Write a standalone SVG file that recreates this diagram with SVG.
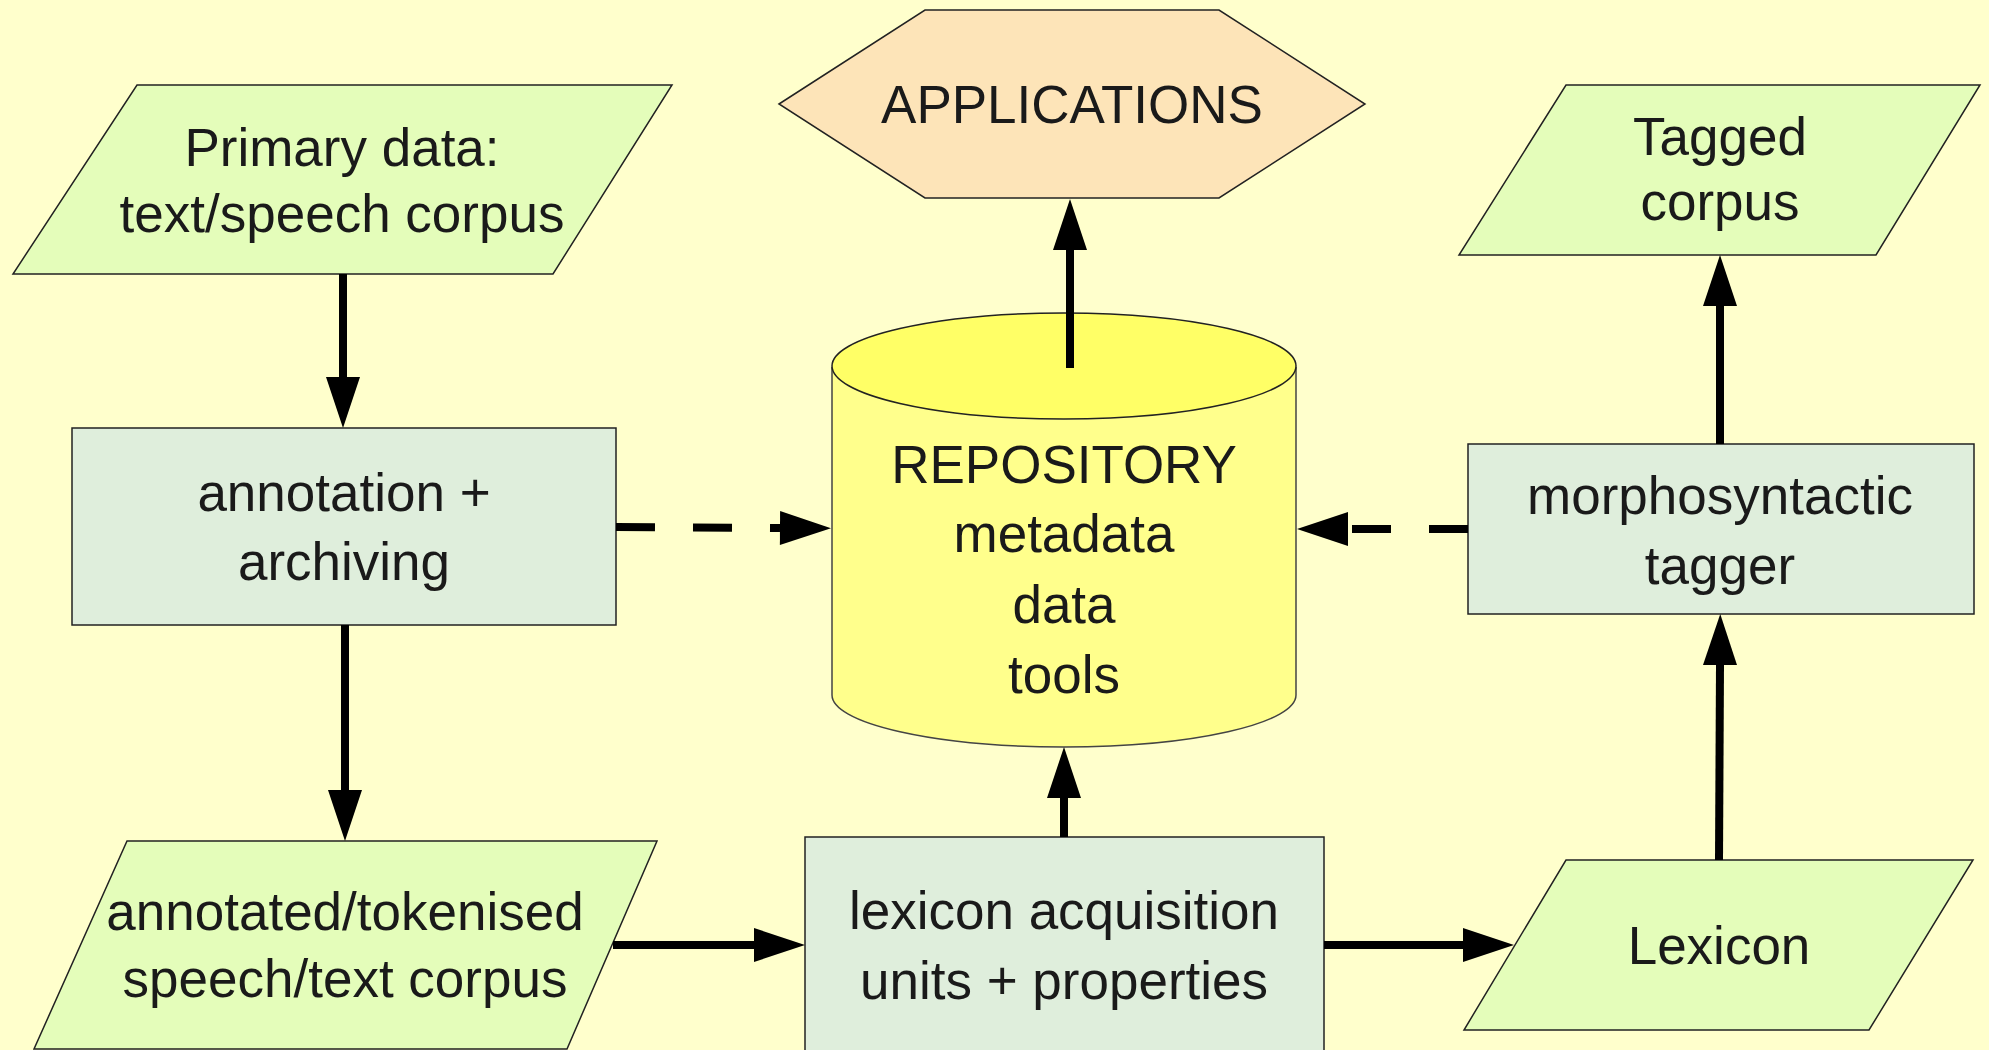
<svg xmlns="http://www.w3.org/2000/svg" width="1989" height="1050" viewBox="0 0 1989 1050">
<style>
.bg{fill:#ffffcc}
.para{fill:#e4fdba;stroke:#222;stroke-width:1.5}
.box{fill:#dfeedc;stroke:#222;stroke-width:1.5}
.hex{fill:#fde4b8;stroke:#222;stroke-width:1.5}
.cylb{fill:#ffff8c;stroke:#444;stroke-width:1.5}
.cylt{fill:#ffff66;stroke:#222;stroke-width:1.5}
text{font-family:"Liberation Sans",Arial,sans-serif;font-size:53px;fill:#1a1a1a;text-anchor:middle}
.c{fill:none;stroke:#000;stroke-width:8}
.d{stroke-dasharray:39 38}
</style>
<defs>
<marker id="ah" markerUnits="userSpaceOnUse" markerWidth="52" markerHeight="36" refX="0" refY="17" orient="auto" overflow="visible">
<path d="M0,0 L51,17 L0,34 Z" fill="#000"/>
</marker>
</defs>
<rect class="bg" x="0" y="0" width="1989" height="1050"/>

<g id="primary">
<polygon class="para" points="137,85 672,85 553,274 13,274"/>
<text x="342" y="166">Primary data:</text>
<text x="342" y="232">text/speech corpus</text>
</g>

<g id="applications">
<polygon class="hex" points="779,104 925,10 1219,10 1365,104 1219,198 925,198"/>
<text x="1072" y="123">APPLICATIONS</text>
</g>

<g id="tagged">
<polygon class="para" points="1566,85 1980,85 1876,255 1459,255"/>
<text x="1720" y="155">Tagged</text>
<text x="1720" y="220">corpus</text>
</g>

<g id="annotation">
<rect class="box" x="72" y="428" width="544" height="197"/>
<text x="344" y="511">annotation +</text>
<text x="344" y="580">archiving</text>
</g>

<g id="repository">
<path class="cylb" d="M832,367 L832,695 A232,52 0 0 0 1296,695 L1296,367"/>
<ellipse class="cylt" cx="1064" cy="366" rx="232" ry="53"/>
<text x="1064" y="483">REPOSITORY</text>
<text x="1064" y="552">metadata</text>
<text x="1064" y="623">data</text>
<text x="1064" y="693">tools</text>
</g>

<g id="tagger">
<rect class="box" x="1468" y="444" width="506" height="170"/>
<text x="1720" y="514">morphosyntactic</text>
<text x="1720" y="584">tagger</text>
</g>

<g id="annotated">
<polygon class="para" points="127,841 657,841 567,1049 34,1049"/>
<text x="345" y="930">annotated/tokenised</text>
<text x="345" y="997">speech/text corpus</text>
</g>

<g id="acquisition">
<rect class="box" x="805" y="837" width="519" height="220"/>
<text x="1064" y="929">lexicon acquisition</text>
<text x="1064" y="999">units + properties</text>
</g>

<g id="lexicon">
<polygon class="para" points="1566,860 1973,860 1869,1030 1464,1030"/>
<text x="1719" y="964">Lexicon</text>
</g>

<g id="connectors">
<line class="c" x1="343" y1="274" x2="343" y2="377" marker-end="url(#ah)"/>
<line class="c" x1="345" y1="625" x2="345" y2="790" marker-end="url(#ah)"/>
<line class="c d" x1="616" y1="527" x2="780" y2="528" marker-end="url(#ah)"/>
<line class="c d" x1="1468" y1="529" x2="1348" y2="529" marker-end="url(#ah)"/>
<line class="c" x1="1070" y1="368" x2="1070" y2="250" marker-end="url(#ah)"/>
<line class="c" x1="1064" y1="837" x2="1064" y2="798" marker-end="url(#ah)"/>
<line class="c" x1="613" y1="945" x2="754" y2="945" marker-end="url(#ah)"/>
<line class="c" x1="1324" y1="945" x2="1463" y2="945" marker-end="url(#ah)"/>
<line class="c" x1="1719" y1="860" x2="1720" y2="665" marker-end="url(#ah)"/>
<line class="c" x1="1720" y1="444" x2="1720" y2="306" marker-end="url(#ah)"/>
</g>
</svg>
